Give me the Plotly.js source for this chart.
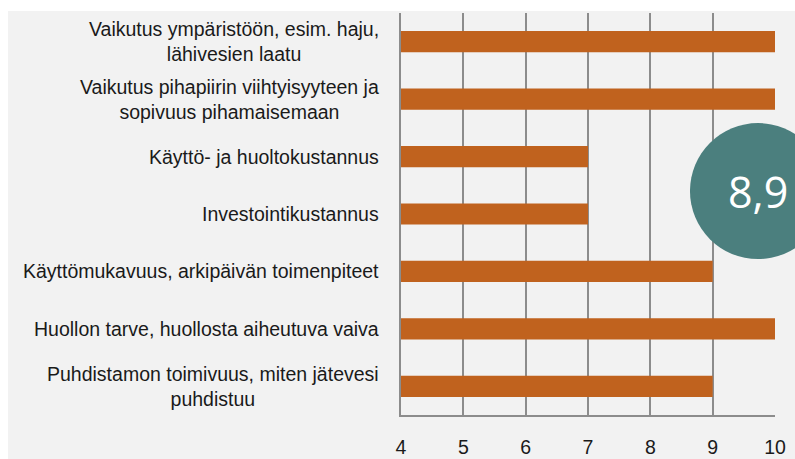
<!DOCTYPE html>
<html>
<head>
<meta charset="utf-8">
<script src="https://cdn.plot.ly/plotly-3.0.1.min.js"></script>
<style>
html,body{margin:0;padding:0;background:#ffffff;}
#chart{position:absolute;left:8px;top:11px;width:787px;height:448px;}
</style>
</head>
<body>
<div id="chart"></div>
<script>
const categories = [
  "Vaikutus ympäristöön, esim. haju,<br>lähivesien laatu",
  "Vaikutus pihapiirin viihtyisyyteen ja<br>sopivuus pihamaisemaan",
  "Käyttö- ja huoltokustannus",
  "Investointikustannus",
  "Käyttömukavuus, arkipäivän toimenpiteet",
  "Huollon tarve, huollosta aiheutuva vaiva",
  "Puhdistamon toimivuus, miten jätevesi<br>puhdistuu"
];
const values = [10, 10, 7, 7, 9, 10, 9];
const tickValues = [4, 5, 6, 7, 8, 9, 10];
const overallScore = "8,9";

const labelFont = {family: "Liberation Sans Narrow, Arial Narrow, Liberation Sans, sans-serif", size: 19.5, color: "#1a1a1a"};

const annotations = categories.map(c => ({
  text: c, xref: "paper", yref: "y", x: 0, y: c,
  xanchor: "right", yanchor: "middle", xshift: -20, align: "center",
  showarrow: false, font: labelFont
}));
annotations.push({
  text: overallScore, xref: "paper", yref: "paper", x: 0.9545, y: 0.557,
  xanchor: "center", yanchor: "middle", showarrow: false,
  font: {family: "Open Sans, sans-serif", size: 43, color: "#ffffff"}
});

Plotly.newPlot("chart", [{
  type: "bar", orientation: "h", y: categories, x: values,
  base: 0, marker: {color: "#c0621e"}, hoverinfo: "skip"
}], {
  width: 787, height: 448,
  paper_bgcolor: "#f2f2f2", plot_bgcolor: "#f2f2f2",
  margin: {l: 393, r: 20, t: 2, b: 44},
  bargap: 0.63,
  showlegend: false,
  xaxis: {range: [4, 10], tickvals: tickValues, showgrid: true, gridcolor: "#8c8c8c", gridwidth: 2,
          showline: true, linecolor: "#8c8c8c", linewidth: 2, zeroline: false,
          ticks: "", ticklabelstandoff: 14, tickfont: labelFont, fixedrange: true},
  yaxis: {type: "category", autorange: "reversed", showticklabels: false, showgrid: false,
          zeroline: false, showline: true, linecolor: "#8c8c8c", linewidth: 2, fixedrange: true},
  shapes: [{
    type: "circle", xref: "paper", yref: "paper", xsizemode: "pixel", ysizemode: "pixel",
    xanchor: 0.9545, yanchor: 0.557, x0: -68, x1: 68, y0: -68, y1: 68,
    fillcolor: "#4b7f7e", line: {width: 0}, layer: "above"
  }],
  annotations: annotations
}, {displayModeBar: false, staticPlot: true});
</script>
</body>
</html>
